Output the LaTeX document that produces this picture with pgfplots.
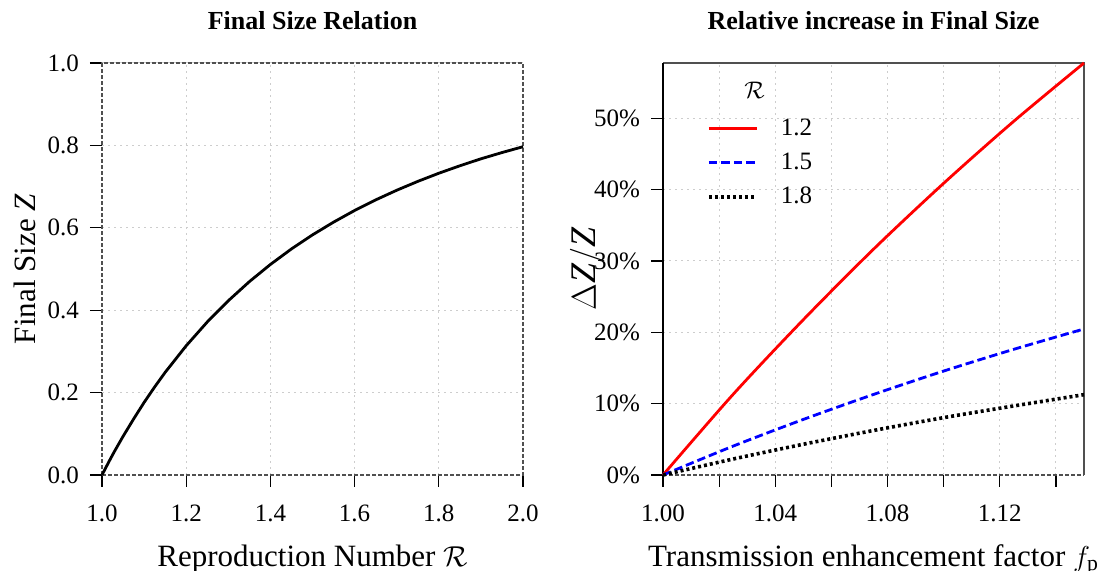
\documentclass[border=0pt]{standalone}
\usepackage{pgfplots}
\pgfplotsset{compat=1.18}
\usepackage{fontspec}
\setmainfont{Liberation Serif}
\definecolor{gridgray}{RGB}{205,205,205}
\definecolor{framegray}{RGB}{80,80,80}
\pgfplotsset{
  common/.style={
    scale only axis,
    width=210.5pt, height=206pt,
    axis line style={draw=none},
    tick align=outside,
    xtick pos=bottom, ytick pos=left,
    major tick length=6pt,
    tick style={black, line width=0.6pt},
    grid=major,
    grid style={gridgray, line width=0.5pt, dash pattern=on 1pt off 2pt},
    /pgf/number format/assume math mode=true,
    ticklabel style={font=\fontsize{12.5}{14}\selectfont},
    xticklabel style={anchor=base, yshift=-17.5pt},
    yticklabel style={anchor=east, xshift=-2pt},
    label style={font=\fontsize{15.5}{18}\selectfont},
    xlabel style={at={(axis description cs:0.5,-0.2209)}, anchor=base},
    ylabel style={at={(axis description cs:-0.183,0.5)}, anchor=center},
    title style={at={(axis description cs:0.5,1.051)}, anchor=base, font=\bfseries\fontsize{13}{15}\selectfont},
    clip=false,
  }
}
\begin{document}
\begin{tikzpicture}
\begin{axis}[common,
  at={(51pt,48pt)}, anchor=south west,
  xmin=1, xmax=2, ymin=0, ymax=1,
  xtick={1.0,1.2,...,2.0}, ytick={0,0.2,...,1.0},
  xticklabel style={/pgf/number format/.cd, fixed, fixed zerofill, precision=1},
  yticklabel style={/pgf/number format/.cd, fixed, fixed zerofill, precision=1},
  title={Final Size Relation},
  xlabel={Reproduction Number $\mathcal{R}$},
  ylabel={Final Size \textit{Z}},
]
\draw[framegray, line width=0.6pt, dash pattern=on 2pt off 1pt] (rel axis cs:0,0) rectangle (rel axis cs:1,1);
\addplot[black, line width=1.4pt] coordinates {
(1.00,0) (1.01,0.0197) (1.02,0.0392) (1.03,0.0580) (1.05,0.0937) (1.075,0.1358)
(1.10,0.1761) (1.125,0.2136) (1.15,0.2491) (1.20,0.3137) (1.25,0.3714) (1.30,0.4229)
(1.35,0.4693) (1.40,0.5110) (1.45,0.5487) (1.50,0.5828) (1.55,0.6137) (1.60,0.6420)
(1.65,0.6677) (1.70,0.6911) (1.75,0.7126) (1.80,0.7324) (1.85,0.7505) (1.90,0.7674)
(1.95,0.7826) (2.00,0.7968)};
\end{axis}
\begin{axis}[common,
  at={(331.5pt,48pt)}, anchor=south west,
  xmin=1, xmax=1.15, ymin=0, ymax=57.75,
  xtick={1.00,1.02,...,1.141}, ytick={0,10,...,50},
  xticklabels={1.00,,1.04,,1.08,,1.12,},
  yticklabel={\pgfmathprintnumber{\tick}\%},
  title={Relative increase in Final Size},
  xlabel={Transmission enhancement factor $f_{\mathrm{p}}$},
  ylabel={$\Delta \textit{Z}/\textit{Z}$},
  ylabel style={at={(axis description cs:-0.18,0.5)}, font=\fontsize{18}{20}\selectfont},
  legend style={draw=none, fill=none, at={(axis description cs:0.104,0.868)}, anchor=north west, inner sep=0pt,
    font=\fontsize{12.5}{14}\selectfont, row sep=8pt, column sep=11pt,
    nodes={inner sep=0pt, text height=9pt, text depth=0pt}},
  legend cell align=left,
  legend image code/.code={\draw[#1] (0pt,-1pt) -- (24pt,-1pt);},
]
\draw[framegray, line width=0.6pt] (rel axis cs:0,1) -- (rel axis cs:1,1) -- (rel axis cs:1,0);
\draw[framegray, line width=0.6pt, dash pattern=on 2pt off 1pt] (rel axis cs:0,0) -- (rel axis cs:1,0);
\draw[black, line width=0.6pt] (rel axis cs:0,0) -- (rel axis cs:0,1);
\addplot[red, line width=1.4pt, smooth] coordinates {
(1.000,0) (1.025,11.31) (1.050,21.77) (1.075,31.65) (1.100,40.89) (1.125,49.59) (1.150,57.75)};
\addlegendentry{1.2}
\addplot[blue, line width=1.4pt, smooth, dash pattern=on 4.2pt off 2pt] coordinates {
(1.000,0) (1.025,4.05) (1.050,7.79) (1.075,11.29) (1.100,14.57) (1.125,17.62) (1.150,20.47)};
\addlegendentry{1.5}
\addplot[black, line width=1.8pt, smooth, dash pattern=on 1.5pt off 1.5pt] coordinates {
(1.000,0) (1.025,2.24) (1.050,4.31) (1.075,6.24) (1.100,8.04) (1.125,9.68) (1.150,11.26)};
\addlegendentry{1.8}
\node[font=\fontsize{13}{15}\selectfont] at (axis description cs:0.2175,0.9345) {$\mathcal{R}$};
\end{axis}
\pgfresetboundingbox
\useasboundingbox (0,0) rectangle (553pt,285.5pt);
\end{tikzpicture}
\end{document}
